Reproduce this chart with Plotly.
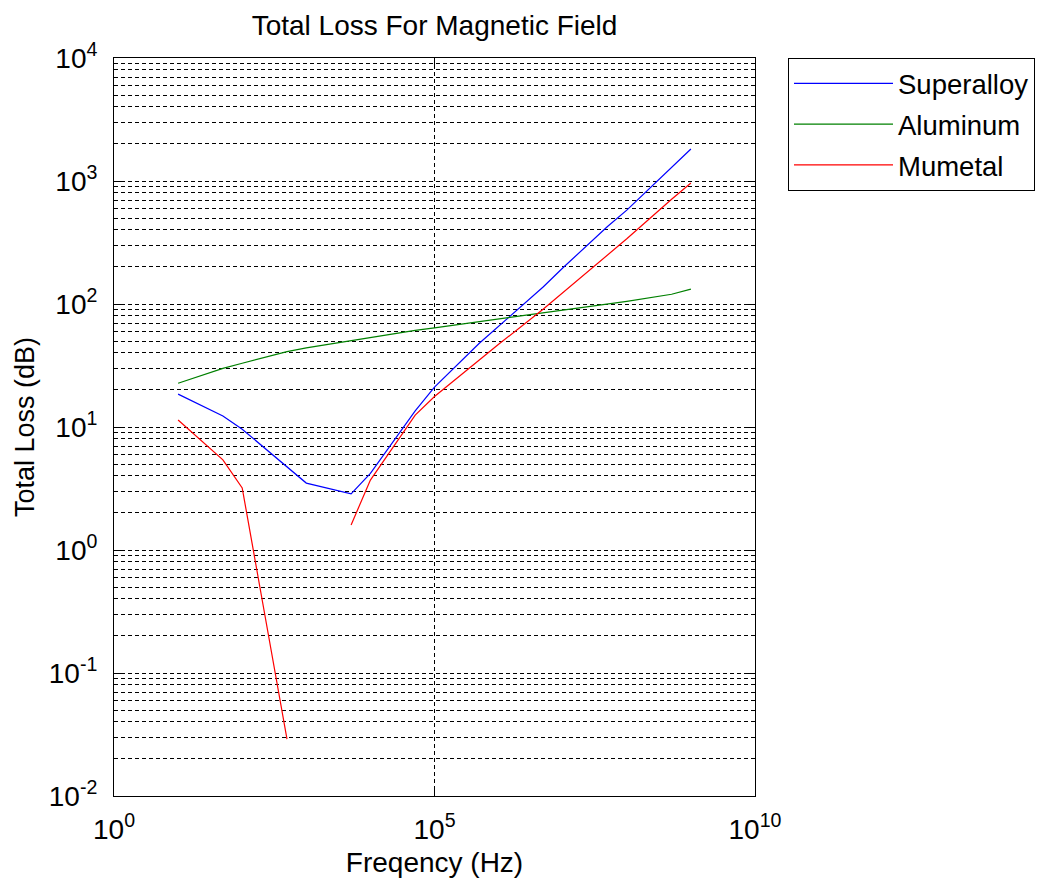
import plotly.graph_objects as go

freq = [10, 50, 100, 500, 1e3, 5e3, 1e4, 5e4, 1e5, 5e5, 1e6, 5e6, 1e7, 5e7, 1e8, 5e8, 1e9]
superalloy = [18.5, 12.3, 9.6, 4.75, 3.5, 2.86, 4.2, 13.5, 21.1, 48, 66, 138, 196, 427, 580, 1290, 1820]
aluminum = [22.7, 30, 33, 41, 44, 50.5, 53.3, 61, 64, 72, 75.5, 85, 88.5, 100, 105, 120, 132]
mumetal = [11.4, 5.4, 3.2, 0.029, None, 1.6, 3.7, 12.5, 17.7, 35, 47, 91, 123, 250, 339, 710, 964]

series_names = ["Superalloy", "Aluminum", "Mumetal"]
series_values = [superalloy, aluminum, mumetal]
series_colors = ["#0000ff", "#008000", "#ff0000"]

x_ticks = [1, 1e5, 1e10]
x_ticktext = ["10<sup>0</sup>", "10<sup>5</sup>", "10<sup>10</sup>"]
y_exps = [-2, -1, 0, 1, 2, 3, 4]
y_ticks = [10.0 ** e for e in y_exps]
y_ticktext = ["10<sup>%d</sup>" % e for e in y_exps]
y_minor = [k * 10.0 ** e for e in y_exps[:-1] for k in range(2, 10)]

FONT = "Liberation Sans, Arial, sans-serif"

fig = go.Figure()
for i, (name, vals, col) in enumerate(zip(series_names, series_values, series_colors)):
    fig.add_trace(go.Scatter(
        x=freq, y=vals, mode="lines", name=name,
        line=dict(color=col, width=1.2),
        connectgaps=False, legendgroup="g%d" % i,
    ))

fig.update_layout(
    width=1045, height=883,
    margin=dict(l=114, r=290, t=58, b=87, autoexpand=False),
    paper_bgcolor="white", plot_bgcolor="white",
    font=dict(family=FONT, size=26, color="black"),
    title=dict(text="Total Loss For Magnetic Field", x=0.5, xref="paper", xanchor="center",
               y=1 - 25 / 883, yref="container", yanchor="middle",
               font=dict(family=FONT, size=28, color="black")),
    showlegend=True,
    legend=dict(x=(788 - 114) / 641, y=1, xanchor="left", yanchor="top",
                bordercolor="black", borderwidth=1, bgcolor="white",
                font=dict(family=FONT, size=27.5, color="black"),
                itemwidth=99, tracegroupgap=2),
)

grid_common = dict(gridcolor="black", gridwidth=1, griddash="4px,3px")

fig.update_xaxes(
    type="log", range=[0, 10], automargin=False,
    tickmode="array", tickvals=x_ticks, ticktext=x_ticktext,
    showgrid=True, **grid_common,
    ticks="inside", ticklen=8, tickcolor="black",
    showline=True, linecolor="black", linewidth=1, mirror="ticks",
    zeroline=False,
    tickfont=dict(family=FONT, size=28),
    ticklabelstandoff=8,
    title=dict(text="Freqency (Hz)", font=dict(family=FONT, size=28), standoff=8),
)
fig.update_yaxes(
    type="log", range=[-2, 4], automargin=False,
    tickmode="array", tickvals=y_ticks, ticktext=y_ticktext,
    showgrid=True, **grid_common,
    ticks="inside", ticklen=8, tickcolor="black",
    minor=dict(tickmode="array", tickvals=y_minor, showgrid=True,
               gridcolor="black", gridwidth=1, griddash="4px,3px",
               ticks="inside", ticklen=4, tickcolor="black"),
    showline=True, linecolor="black", linewidth=1, mirror="ticks",
    zeroline=False,
    tickfont=dict(family=FONT, size=28),
    ticklabelstandoff=10,
    title=dict(text="Total Loss (dB)", font=dict(family=FONT, size=27), standoff=6),
)

fig.write_html("out.html")
